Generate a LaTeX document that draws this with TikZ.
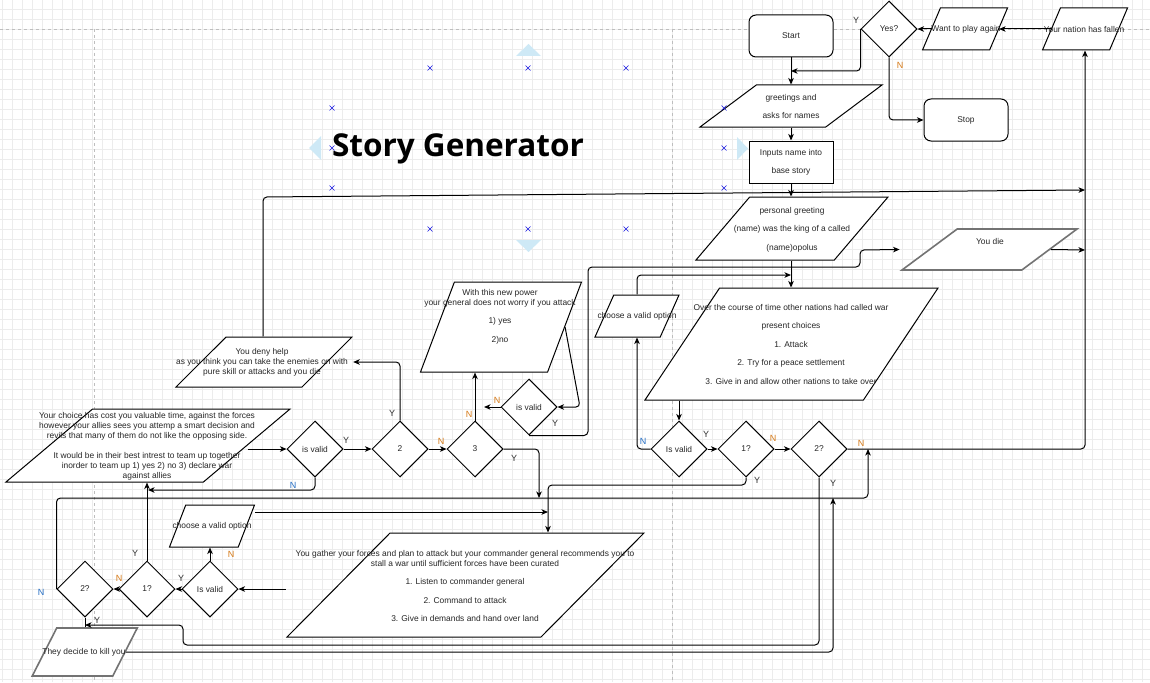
\documentclass[tikz,border=0pt]{standalone}
\usepackage{fontspec}
\setmainfont{Liberation Sans}
\newfontfamily\titlefont{Open Sans}
\usepackage{xcolor}
\usepackage{tikz}
\usetikzlibrary{positioning, calc, arrows.meta}
\usetikzlibrary{shapes.geometric}
\definecolor{GridLine}{RGB}{236,236,236}
\definecolor{PageLine}{RGB}{190,190,190}
\definecolor{LabelOrange}{RGB}{214,122,24}
\definecolor{LabelBlue}{RGB}{36,110,196}
\definecolor{HandleBlue}{RGB}{206,233,246}
\definecolor{MarkBlue}{RGB}{25,25,225}
\tikzset{
	box/.style={draw, fill=white, line width=1pt, minimum width=84pt, minimum height=42pt, inner sep=0pt, align=center, font=\fontsize{8.4}{18}\selectfont, text=black!85},
	roundbox/.style={box, rounded corners=7pt},
	decision/.style={draw, fill=white, line width=1pt, shape=diamond, minimum width=56pt, minimum height=56pt, inner sep=0pt, font=\fontsize{8.4}{9}\selectfont, text=black!85},
	para/.style n args={4}{draw, fill=white, line width=1pt, shape=trapezium, trapezium left angle=#1, trapezium right angle=#2, trapezium stretches, minimum width=#3, minimum height=#4, inner sep=1pt},
	greybox/.style={draw=black!55, line width=1.6pt},
	txt/.style={align=center, inner sep=0pt, text=black!85, font=\fontsize{8.4}{#1}\selectfont},
	flow/.style={-{Stealth[length=6.5pt, width=5.5pt, inset=1.8pt]}, line width=1pt, rounded corners=4pt},
	ylab/.style={inner sep=0pt, font=\fontsize{9}{10}\selectfont, text=black!80},
	nlab/.style={ylab, text=LabelOrange},
	nlabb/.style={ylab, text=LabelBlue},
}

\begin{document}
\begin{tikzpicture}[x=1pt, y=-1pt]
	\useasboundingbox (0,0) rectangle (1150,682);
	\fill[white] (0,0) rectangle (1150,682);
	% grid and page breaks
	\foreach \gx in {2,12,...,1142}
		\draw[GridLine, line width=0.6pt] (\gx,0) -- (\gx,682);
	\foreach \gy in {9,19,...,679}
		\draw[GridLine, line width=0.6pt] (0,\gy) -- (1150,\gy);
	\draw[PageLine, dashed, line width=0.7pt] (0,29) -- (1150,29);
	\draw[PageLine, dashed, line width=0.7pt] (94,29) -- (94,682);
	\draw[PageLine, dashed, line width=0.7pt] (672,29) -- (672,682);

	% selection handles of the title
	\fill[HandleBlue] (516,56) -- (541,56) -- (528.5,44) -- cycle;
	\fill[HandleBlue] (516,240) -- (541,240) -- (528.5,252) -- cycle;
	\fill[HandleBlue] (321,136) -- (321,160) -- (309,148) -- cycle;
	\fill[HandleBlue] (737,137) -- (737,160) -- (748,148.5) -- cycle;

	\node[font=\titlefont\bfseries\fontsize{31.5}{34}\selectfont] (title) at (458,149) {Story Generator};

	% top right
	\node[roundbox] (start) at (791,36) {Start};
	\node[decision] (yesq) at (889,29) {Yes?};
	\node[para={70}{110}{85}{42}] (want) at (965,29) {};
	\node[txt=9] (wantT) at (966,29) {Want to play again};
	\node[para={70}{110}{85}{42}] (nation) at (1085,29) {};
	\node[txt=9] (nationT) at (1084,29) {Your nation has fallen};
	\node[roundbox] (stop) at (966,120) {Stop};
	\node[para={51}{129}{182}{42}] (greet) at (791,106) {};
	\node[txt=18] (greetT) at (791,106) {greetings and\\asks for names};
	\node[box] (inputs) at (791,162) {Inputs name into\\base story};
	\node[para={57.6}{122.4}{192}{63}] (pers) at (792,228.5) {};
	\node[txt=18.5] (persT) at (792,229.5) {personal greeting\\(name) was the king of a called\\(name)opolus};
	\node[para={49.5}{130.5}{175}{41}, greybox] (youdie) at (989.5,249.5) {};
	\node[txt=9] (youdieT) at (990,241) {You die};
	\node[para={62.6}{117.4}{293}{112}] (over) at (791.5,344) {};
	\node[txt=18.5] (overT) at (791,344) {Over the course of time other nations had called war\\present choices\\1. Attack\\2. Try for a peace settlement\\3. Give in and allow other nations to take over};
	\node[para={68}{112}{84}{42}] (chooseR) at (637,316) {};
	\node[txt=9] (chooseRT) at (637,316) {choose a valid option};
	\node[decision] (isvR) at (679,449) {Is valid};
	\node[decision] (oneR) at (746,449) {1?};
	\node[decision] (twoR) at (819,449) {2?};

	% middle
	\node[para={70}{110}{161}{90}] (withp) at (501,327) {};
	\node[txt=10] (withpT) at (500,317) {With this new power\\your general does not worry if you attack\\[8pt]1) yes\\[9pt]2)no};
	\node[decision] (svalid) at (529,407) {is valid};
	\node[para={56.6}{123.4}{176}{50}] (deny) at (264,362) {};
	\node[txt=10] (denyT) at (262,362) {You deny help\\as you think you can take the enemies on with\\pure skill or attacks and you die};
	\node[para={52}{128}{284}{73}] (choice) at (148,445.5) {};
	\node[txt=10] (choiceT) at (147,446.5) {Your choice has cost you valuable time, against the forces\\however your allies sees you attemp a smart decision and\\revils that many of them do not like the opposing side.\\[10pt]It would be in their best intrest to team up together\\inorder to team up 1) yes 2) no 3) declare war\\against allies};
	\node[decision] (isvM) at (315,449) {is valid};
	\node[decision] (two) at (400,449) {2};
	\node[decision] (three) at (475,449) {3};

	% bottom left
	\node[para={72.8}{107.2}{85}{42}] (chooseL) at (212,526) {};
	\node[txt=9] (chooseLT) at (212,526) {choose a valid option};
	\node[para={55.7}{124.3}{357}{104}] (gather) at (465.5,585) {};
	\node[txt=10] (gatherT) at (465,586) {You gather your forces and plan to attack but your commander general recommends you to\\stall a war until sufficient forces have been curated\\[8pt]1. Listen to commander general\\[9pt]2. Command to attack\\[8pt]3. Give in demands and hand over land};
	\node[decision] (isvL) at (210,589) {Is valid};
	\node[decision] (oneL) at (147,589) {1?};
	\node[decision] (twoL) at (85,589) {2?};
	\node[para={66.4}{113.6}{105}{48}, greybox] (kill) at (84.75,652) {};
	\node[txt=9] (killT) at (84,652) {They decide to kill you};

	% joints
	\coordinate (jStart) at (791,71);
	\coordinate (jDeny) at (263,197);
	\coordinate (jTop) at (1085,190);
	\coordinate (jDie) at (1085,250);
	\coordinate (jRight) at (1085,449);
	\coordinate (jOver) at (791,275);
	\coordinate (jGather) at (548,485);
	\coordinate (jChooseL) at (548,512);
	\coordinate (jLoop) at (183,645);
	\coordinate (jKill) at (85,625);
	\coordinate (jBottom) at (833,498);
	\coordinate (jTwoR) at (868,449);
	\coordinate (jThree) at (539,498);
	\coordinate (jChoice) at (148,490);
	\coordinate (jWith) at (580,407);
	\coordinate (jSV) at (484,407);
	\coordinate (jSV2) at (588,267);
	\coordinate (jSV3) at (860,250);

	% connectors
	\draw[flow] (start.south) -- (start.south |- greet.north);
	\draw[flow] (yesq.west) |- (jStart);
	\draw[flow] (yesq.south) |- (stop.west);
	\draw[flow] (want.west) -- (yesq.east);
	\draw[flow] (nation.west) -- (want.east);
	\draw[flow] (greet.south -| inputs.north) -- (inputs.north);
	\draw[flow] (inputs.south) -- (inputs.south |- pers.north);
	\draw[flow] (jDeny |- deny.north) -- (jDeny) -- (jTop);
	\draw[flow] (pers.south -| inputs.south) -- (over.north -| inputs.south);
	\draw[flow] (chooseR |- chooseR.north) |- (jOver);
	\draw[flow] (over.south -| isvR.north) -- (isvR.north);
	\draw[flow] (isvR.east) -- (oneR.west);
	\draw[flow] (oneR.east) -- (twoR.west);
	\draw[flow] (twoR.east) -- (jRight) -- (jRight |- nation.south);
	\draw[flow] (youdie.east) -- (jDie);
	\draw[flow] (isvR.west) -| (chooseR |- chooseR.south);
	\draw[flow] (oneR.south) |- (jGather) -- (jGather |- gather.north);
	\draw[flow] (twoR.south) |- (jLoop) |- (jKill);
	\draw[flow] (kill.east) -| (jBottom);
	\draw[flow] (twoL.west) |- (jBottom) -| (jTwoR);
	\draw[line width=1pt] (twoL.south) -- (twoL.south |- kill.north);
	\draw[flow] (oneL.north) -- (oneL.north |- choice.south);
	\draw[flow] (isvM.south) |- (jChoice);
	\draw[flow] (isvM.west -| choice.east) -- (isvM.west);
	\draw[flow] (isvM.east) -- (two.west);
	\draw[flow] (two.east) -- (three.west);
	\draw[flow] (two.north) |- (deny.top right corner |- deny.east);
	\draw[flow] (three.north) -- (three.north |- withp.south);
	\draw[flow] (three.east) -| (jThree);
	\draw[flow] (withp.east) -- (jWith) -- (svalid.east);
	\draw[flow] (svalid.west) -- (jSV);
	\draw[flow] (svalid.south) -| (jSV2) -| (jSV3) -- (youdie.bottom left corner |- youdie.west);
	\draw[flow] (jChooseL -| chooseL.top right corner) -- (jChooseL);
	\draw[flow] (isvL.north) -- (isvL.north |- chooseL.south);
	\draw[flow] (gather.bottom left corner |- isvL.east) -- (isvL.east);
	\draw[flow] (isvL.west) -- (oneL.east);
	\draw[flow] (oneL.west) -- (twoL.east);

	% branch labels
	\node[ylab] (lY1) at (856,20) {Y};
	\node[nlab] (lN1) at (900,65) {N};
	\node[ylab] (lY2) at (706,434) {Y};
	\node[nlab] (lN2) at (773,438) {N};
	\node[nlab] (lN3) at (861,443) {N};
	\node[nlabb] (lN4) at (643,441) {N};
	\node[ylab] (lY3) at (757,480) {Y};
	\node[ylab] (lY4) at (833,483) {Y};
	\node[ylab] (lY5) at (555,423) {Y};
	\node[nlab] (lN5) at (497,400) {N};
	\node[nlab] (lN6) at (469,414) {N};
	\node[ylab] (lY6) at (392,413) {Y};
	\node[ylab] (lY7) at (346,440) {Y};
	\node[nlab] (lN7) at (441,441) {N};
	\node[ylab] (lY8) at (514,458) {Y};
	\node[nlabb] (lN8) at (293,485) {N};
	\node[nlab] (lN9) at (231,554) {N};
	\node[ylab] (lY9) at (181,578) {Y};
	\node[nlab] (lN10) at (119,578) {N};
	\node[ylab] (lY10) at (135,553) {Y};
	\node[nlabb] (lN11) at (41,592) {N};
	\node[ylab] (lY11) at (97,620) {Y};

	% handle marks
	\foreach \mx/\my in {430/68, 528/68, 626/68, 332/108, 332/148, 332/188, 724/108, 724/148, 724/188, 430/229, 528/229, 626/229}
		\draw[MarkBlue, line width=0.6pt] (\mx-2.5,\my-2.5) -- (\mx+2.5,\my+2.5) (\mx-2.5,\my+2.5) -- (\mx+2.5,\my-2.5);
\end{tikzpicture}
\end{document}
